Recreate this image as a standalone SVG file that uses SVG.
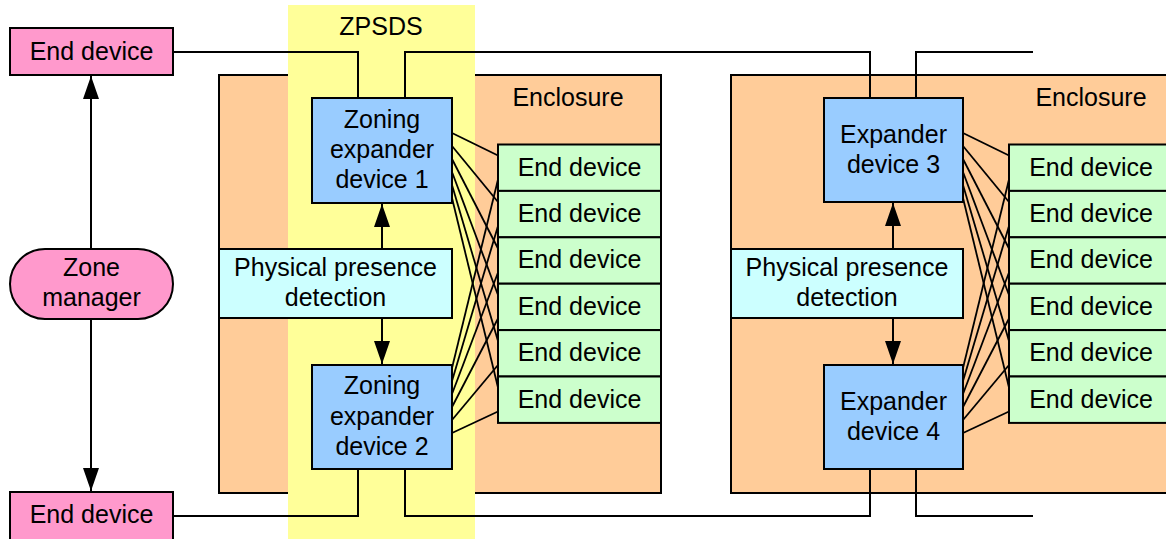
<svg xmlns="http://www.w3.org/2000/svg" width="1166" height="539" viewBox="0 0 1166 539">
  <style>
    .box { stroke: #000; stroke-width: 2; }
    .pink { fill: #FF99CC; }
    .blue { fill: #99CCFF; }
    .cyan { fill: #CCFFFF; }
    .green { fill: #CCFFCC; }
    .encl { fill: #FFCC99; stroke: #000; stroke-width: 2; }
    .zone { fill: #FFFF99; }
    text { font-family: "Liberation Sans", Arial, sans-serif; font-size: 25px; fill: #000; text-anchor: middle; }
    .wire { fill: none; stroke: #000; stroke-width: 2; }
    .fan { stroke: #000; stroke-width: 1.8; }
    .arrow { stroke: #000; stroke-width: 2; marker-end: url(#head); }
  </style>
  <defs>
    <marker id="head" viewBox="0 0 23 16" markerWidth="23" markerHeight="16" refX="23" refY="8" orient="auto" markerUnits="userSpaceOnUse">
      <path d="M0,0 L23,8 L0,16 z" fill="#000"/>
    </marker>
  </defs>

  <rect width="1166" height="539" fill="#fff"/>

  <!-- enclosures -->
  <g id="enclosure-left">
    <rect class="encl" x="219" y="75" width="442" height="418"/>
    <text x="568" y="106">Enclosure</text>
  </g>
  <g id="enclosure-right">
    <rect class="encl" x="731" y="75" width="442" height="418"/>
    <text x="1091" y="106">Enclosure</text>
  </g>

  <!-- ZPSDS band -->
  <g id="zpsds">
    <rect class="zone" x="288" y="5" width="187" height="540"/>
    <text x="381" y="35">ZPSDS</text>
  </g>

  <!-- connectors -->
  <g id="connectors">
    <!-- top and bottom wiring -->
    <polyline class="wire" points="173,52 358,52 358,98"/>
    <polyline class="wire" points="405,98 405,52 870,52 870,98"/>
    <polyline class="wire" points="916,98 916,52 1033,52"/>
    <polyline class="wire" points="170,516 358,516 358,469"/>
    <polyline class="wire" points="405,469 405,516 870,516 870,469"/>
    <polyline class="wire" points="916,469 916,516 1033,516"/>

    <!-- zone manager arrows -->
    <line class="arrow" x1="91" y1="249" x2="91" y2="76"/>
    <line class="arrow" x1="91" y1="319" x2="91" y2="491"/>

    <!-- physical presence arrows -->
    <line class="arrow" x1="382" y1="249" x2="382" y2="204"/>
    <line class="arrow" x1="382" y1="318" x2="382" y2="364"/>
    <line class="arrow" x1="893" y1="249" x2="893" y2="203"/>
    <line class="arrow" x1="893" y1="318" x2="893" y2="364"/>

    <!-- expander 1 to end devices -->
    <line class="fan" x1="452" y1="133" x2="498" y2="155.5"/>
    <line class="fan" x1="452" y1="146" x2="498" y2="202"/>
    <line class="fan" x1="452" y1="159" x2="498" y2="248.5"/>
    <line class="fan" x1="452" y1="172" x2="498" y2="295"/>
    <line class="fan" x1="452" y1="185" x2="498" y2="341"/>
    <line class="fan" x1="452" y1="198" x2="498" y2="387.5"/>
    <!-- expander 2 to end devices -->
    <line class="fan" x1="452" y1="368" x2="498" y2="179.5"/>
    <line class="fan" x1="452" y1="381" x2="498" y2="226"/>
    <line class="fan" x1="452" y1="394" x2="498" y2="272.5"/>
    <line class="fan" x1="452" y1="407" x2="498" y2="318.5"/>
    <line class="fan" x1="452" y1="420" x2="498" y2="365"/>
    <line class="fan" x1="452" y1="433" x2="498" y2="411.5"/>
    <!-- expander 3 to end devices -->
    <line class="fan" x1="963" y1="133" x2="1009" y2="155.5"/>
    <line class="fan" x1="963" y1="146" x2="1009" y2="202"/>
    <line class="fan" x1="963" y1="159" x2="1009" y2="248.5"/>
    <line class="fan" x1="963" y1="172" x2="1009" y2="295"/>
    <line class="fan" x1="963" y1="185" x2="1009" y2="341"/>
    <line class="fan" x1="963" y1="198" x2="1009" y2="387.5"/>
    <!-- expander 4 to end devices -->
    <line class="fan" x1="963" y1="368" x2="1009" y2="179.5"/>
    <line class="fan" x1="963" y1="381" x2="1009" y2="226"/>
    <line class="fan" x1="963" y1="394" x2="1009" y2="272.5"/>
    <line class="fan" x1="963" y1="407" x2="1009" y2="318.5"/>
    <line class="fan" x1="963" y1="420" x2="1009" y2="365"/>
    <line class="fan" x1="963" y1="433" x2="1009" y2="411.5"/>
  </g>

  <!-- outside devices -->
  <g id="end-device-top">
    <rect class="box pink" x="10" y="28" width="163" height="47"/>
    <text x="91.5" y="60">End device</text>
  </g>
  <g id="zone-manager">
    <rect class="box pink" x="10" y="249" width="163" height="70" rx="35" ry="35"/>
    <text x="91.5" y="276">Zone</text>
    <text x="91.5" y="306">manager</text>
  </g>
  <g id="end-device-bottom">
    <rect class="box pink" x="10" y="492" width="163" height="48"/>
    <text x="91.5" y="523">End device</text>
  </g>

  <!-- left enclosure contents -->
  <g id="zoning-expander-1">
    <rect class="box blue" x="312" y="98" width="140" height="105"/>
    <text x="382" y="128">Zoning</text>
    <text x="382" y="158">expander</text>
    <text x="382" y="188">device 1</text>
  </g>
  <g id="presence-left">
    <rect class="box cyan" x="219" y="249" width="233" height="69"/>
    <text x="335.5" y="276">Physical presence</text>
    <text x="335.5" y="306">detection</text>
  </g>
  <g id="zoning-expander-2">
    <rect class="box blue" x="312" y="365" width="140" height="104"/>
    <text x="382" y="394">Zoning</text>
    <text x="382" y="424.5">expander</text>
    <text x="382" y="455">device 2</text>
  </g>
  <g id="end-devices-left">
    <g id="ed-l1"><rect class="box green" x="498" y="144.5" width="163" height="46.4"/><text x="579.5" y="175.5">End device</text></g>
    <g id="ed-l2"><rect class="box green" x="498" y="190.9" width="163" height="46.4"/><text x="579.5" y="221.9">End device</text></g>
    <g id="ed-l3"><rect class="box green" x="498" y="237.3" width="163" height="46.4"/><text x="579.5" y="268.3">End device</text></g>
    <g id="ed-l4"><rect class="box green" x="498" y="283.7" width="163" height="46.4"/><text x="579.5" y="314.7">End device</text></g>
    <g id="ed-l5"><rect class="box green" x="498" y="330.1" width="163" height="46.4"/><text x="579.5" y="361.1">End device</text></g>
    <g id="ed-l6"><rect class="box green" x="498" y="376.5" width="163" height="46.4"/><text x="579.5" y="407.5">End device</text></g>
  </g>

  <!-- right enclosure contents -->
  <g id="expander-3">
    <rect class="box blue" x="824" y="98" width="139" height="104"/>
    <text x="893.5" y="143">Expander</text>
    <text x="893.5" y="173">device 3</text>
  </g>
  <g id="presence-right">
    <rect class="box cyan" x="731" y="249" width="232" height="69"/>
    <text x="847" y="276">Physical presence</text>
    <text x="847" y="306">detection</text>
  </g>
  <g id="expander-4">
    <rect class="box blue" x="824" y="365" width="139" height="104"/>
    <text x="893.5" y="410">Expander</text>
    <text x="893.5" y="439.5">device 4</text>
  </g>
  <g id="end-devices-right">
    <g id="ed-r1"><rect class="box green" x="1009" y="144.5" width="163" height="46.4"/><text x="1091" y="175.5">End device</text></g>
    <g id="ed-r2"><rect class="box green" x="1009" y="190.9" width="163" height="46.4"/><text x="1091" y="221.9">End device</text></g>
    <g id="ed-r3"><rect class="box green" x="1009" y="237.3" width="163" height="46.4"/><text x="1091" y="268.3">End device</text></g>
    <g id="ed-r4"><rect class="box green" x="1009" y="283.7" width="163" height="46.4"/><text x="1091" y="314.7">End device</text></g>
    <g id="ed-r5"><rect class="box green" x="1009" y="330.1" width="163" height="46.4"/><text x="1091" y="361.1">End device</text></g>
    <g id="ed-r6"><rect class="box green" x="1009" y="376.5" width="163" height="46.4"/><text x="1091" y="407.5">End device</text></g>
  </g>
</svg>
